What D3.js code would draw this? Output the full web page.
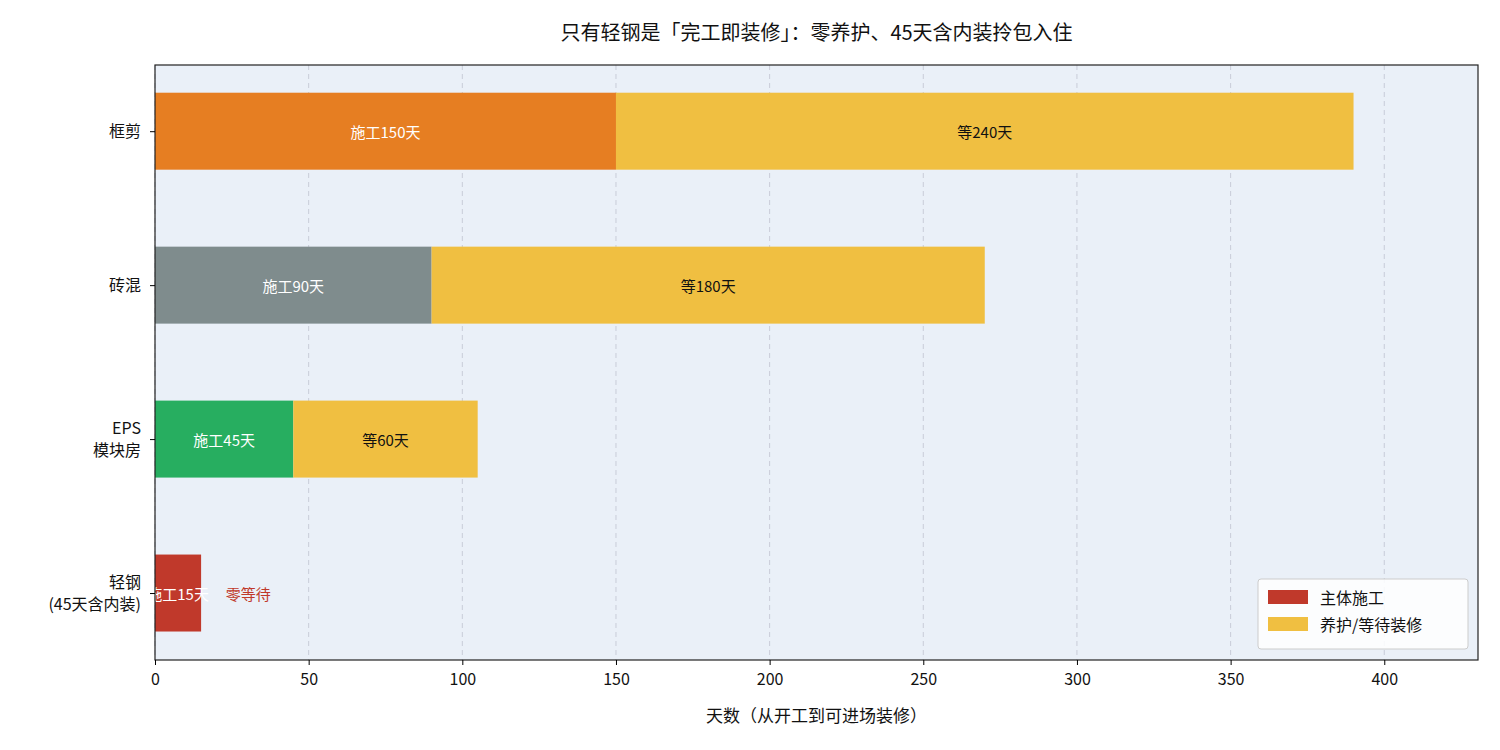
<!DOCTYPE html>
<html><head><meta charset="utf-8">
<script src="https://cdn.jsdelivr.net/npm/d3@7/dist/d3.min.js"></script>
<style>body{margin:0;background:#fff;font-family:"Noto Sans CJK SC","Noto Sans",sans-serif;}</style>
</head><body><div id="chart"></div>
<script>
// Data
const categories = ["轻钢\n(45天含内装)", "EPS\n模块房", "砖混", "框剪"];
const buildDays = [15, 45, 90, 150];
const waitDays = [0, 60, 180, 240];
const buildColors = ["#C0392B", "#27AE60", "#7F8C8D", "#E67E22"];
const waitColor = "#F0BF41";
const xTicks = [0, 50, 100, 150, 200, 250, 300, 350, 400];

const width = 1500, height = 750;
const margin = { top: 65, right: 22, bottom: 90, left: 155 };
const innerWidth = width - margin.left - margin.right;
const innerHeight = height - margin.top - margin.bottom;

const svg = d3.select("#chart").append("svg")
    .attr("width", width).attr("height", height)
    .style("font-family", "'Noto Sans CJK SC', sans-serif");

const x = d3.scaleLinear().domain([0, 430.5]).range([0, innerWidth]);
const y = d3.scaleLinear().domain([-0.435, 3.43]).range([innerHeight, 0]);
const barH = y(0) - y(0.5);

const g = svg.append("g").attr("transform", `translate(${margin.left},${margin.top})`);

g.append("rect").attr("width", innerWidth).attr("height", innerHeight).attr("fill", "#EAF0F8");

// grid
g.selectAll(".grid").data(xTicks).enter().append("line")
    .attr("x1", d => x(d)).attr("x2", d => x(d))
    .attr("y1", 0).attr("y2", innerHeight)
    .attr("stroke", "#c8ccd8").attr("stroke-dasharray", "5,4").attr("stroke-width", 1);

g.append("clipPath").attr("id", "clip").append("rect")
    .attr("width", innerWidth).attr("height", innerHeight);
const plot = g.append("g").attr("clip-path", "url(#clip)");

// bars
categories.forEach((c, i) => {
    plot.append("rect").attr("x", x(0)).attr("y", y(i) - barH / 2)
        .attr("width", x(buildDays[i]) - x(0)).attr("height", barH).attr("fill", buildColors[i]);
    if (waitDays[i] > 0) {
        plot.append("rect").attr("x", x(buildDays[i])).attr("y", y(i) - barH / 2)
            .attr("width", x(buildDays[i] + waitDays[i]) - x(buildDays[i])).attr("height", barH).attr("fill", waitColor);
        plot.append("text").attr("x", x(buildDays[i] + waitDays[i] / 2)).attr("y", y(i))
            .attr("text-anchor", "middle").attr("dominant-baseline", "central")
            .style("font-size", "15px").attr("fill", "#111").text(`等${waitDays[i]}天`);
    } else {
        plot.append("text").attr("x", x(buildDays[i] + 8)).attr("y", y(i))
            .attr("dominant-baseline", "central")
            .style("font-size", "15px").attr("fill", "#C0392B").text("零等待");
    }
    plot.append("text").attr("x", x(buildDays[i] / 2)).attr("y", y(i))
        .attr("text-anchor", "middle").attr("dominant-baseline", "central")
        .style("font-size", "15px").attr("fill", "#fff").text(`施工${buildDays[i]}天`);
});

g.append("rect").attr("width", innerWidth).attr("height", innerHeight)
    .attr("fill", "none").attr("stroke", "#222").attr("stroke-width", 1.2);

// axes
const xAxis = g.append("g").attr("transform", `translate(0,${innerHeight})`)
    .call(d3.axisBottom(x).tickValues(xTicks).tickSize(5).tickPadding(9).tickSizeOuter(0));
xAxis.select(".domain").remove();
xAxis.selectAll("text").style("font-size", "16px").style("font-family", "'Noto Sans CJK SC', sans-serif").attr("fill", "#111");

const yAxis = g.append("g").call(d3.axisLeft(y).tickValues([0, 1, 2, 3]).tickSize(5).tickFormat(""));
yAxis.select(".domain").remove();
categories.forEach((c, i) => {
    const lines = c.split("\n");
    const t = g.append("text").attr("text-anchor", "end")
        .style("font-size", "16px").attr("fill", "#111");
    lines.forEach((l, k) => {
        t.append("tspan").attr("x", -14)
            .attr("y", y(i) + (k - (lines.length - 1) / 2) * 22 + 6).text(l);
    });
});

svg.append("text").attr("x", margin.left + innerWidth / 2).attr("y", 722)
    .attr("text-anchor", "middle").style("font-size", "17px").attr("fill", "#111")
    .text("天数（从开工到可进场装修）");

svg.append("text").attr("x", margin.left + innerWidth / 2).attr("y", 40)
    .attr("text-anchor", "middle").style("font-size", "20px").attr("fill", "#111")
    .text("只有轻钢是「完工即装修」：零养护、45天含内装拎包入住");

// legend
const lg = g.append("g").attr("transform", `translate(${innerWidth - 220},${innerHeight - 81})`);
lg.append("rect").attr("width", 210).attr("height", 70).attr("rx", 3)
    .attr("fill", "#fff").attr("fill-opacity", 0.85).attr("stroke", "#ccc");
[["主体施工", "#C0392B"], ["养护/等待装修", waitColor]].forEach((d, k) => {
    lg.append("rect").attr("x", 10).attr("y", 11 + k * 27).attr("width", 40).attr("height", 14).attr("fill", d[1]);
    lg.append("text").attr("x", 62).attr("y", 18 + k * 27).attr("dominant-baseline", "central")
        .style("font-size", "16px").attr("fill", "#111").text(d[0]);
});
</script></body></html>
